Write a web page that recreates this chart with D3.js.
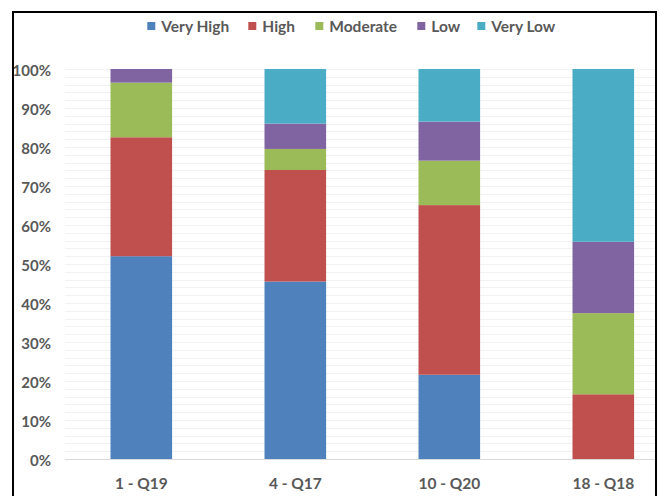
<!DOCTYPE html>
<html>
<head>
<meta charset="utf-8">
<script src="https://cdn.jsdelivr.net/npm/d3@7"></script>
<style>
  html, body { margin: 0; padding: 0; background: #fff; }
  svg { display: block; }
  text { font-family: Lato, "Noto Sans", sans-serif; font-weight: bold; fill: #595959; }
</style>
</head>
<body>
<svg id="chart" width="660" height="496"></svg>
<script>
// Questions on the x axis
const categories = ["1 - Q19", "4 - Q17", "10 - Q20", "18 - Q18"];

// Share of responses per rating level (percent), one value per question
const seriesNames = ["Very High", "High", "Moderate", "Low", "Very Low"];
const veryHigh = [52.0, 45.5, 21.6, 0.0];
const high     = [30.5, 28.6, 43.5, 16.6];
const moderate = [14.0, 5.4, 11.4, 20.8];
const low      = [3.5, 6.5, 10.0, 18.3];
const veryLow  = [0.0, 14.0, 13.5, 44.3];

const colors = ["#4F81BD", "#C0504D", "#9BBB59", "#8064A2", "#4BACC6"];
const yTicks = [0, 10, 20, 30, 40, 50, 60, 70, 80, 90, 100];

const rows = categories.map((c, i) => ({
  category: c,
  "Very High": veryHigh[i],
  "High": high[i],
  "Moderate": moderate[i],
  "Low": low[i],
  "Very Low": veryLow[i]
}));

const svg = d3.select("#chart");

const x = d3.scaleBand()
  .domain(categories)
  .range([64.3, 680.3])
  .paddingInner(0.6)
  .paddingOuter(0.3);

const y = d3.scaleLinear().domain([0, 100]).range([459, 69]);

const gridRight = 655;

// Light gridlines every 2%
const minor = d3.range(2, 101, 2);
svg.append("g")
  .selectAll("line")
  .data(minor)
  .join("line")
  .attr("x1", 65).attr("x2", gridRight)
  .attr("y1", d => Math.round(y(d)) + 0.5)
  .attr("y2", d => Math.round(y(d)) + 0.5)
  .attr("stroke", "#f2f2f2")
  .attr("stroke-width", 1);

// Stacked bars
const stack = d3.stack().keys(seriesNames);
const layers = stack(rows);

svg.append("g")
  .selectAll("g")
  .data(layers)
  .join("g")
  .attr("fill", (d, i) => colors[i])
  .selectAll("rect")
  .data(d => d)
  .join("rect")
  .attr("x", d => x(d.data.category))
  .attr("width", x.bandwidth())
  .attr("y", d => y(d[1]))
  .attr("height", d => y(d[0]) - y(d[1]));

// Baseline
svg.append("line")
  .attr("x1", 65).attr("x2", gridRight)
  .attr("y1", 459.5).attr("y2", 459.5)
  .attr("stroke", "#d9d9d9")
  .attr("stroke-width", 1);

// Y axis labels
const yAxis = d3.axisLeft(y)
  .tickValues(yTicks)
  .tickFormat(d => d + "%")
  .tickSize(0)
  .tickPadding(0);

const gy = svg.append("g")
  .attr("transform", "translate(51,0)")
  .call(yAxis);
gy.select(".domain").remove();
gy.selectAll("text")
  .attr("dy", "0.42em")
  .style("font-size", "15px")
  .style("font-family", "Lato, sans-serif")
  .attr("fill", "#595959");

// X axis labels
const xAxis = d3.axisBottom(x).tickSize(0).tickPadding(0);
const gx = svg.append("g")
  .attr("transform", "translate(0,478)")
  .call(xAxis);
gx.select(".domain").remove();
gx.selectAll("text")
  .attr("dy", "0.71em")
  .style("font-size", "15.5px")
  .style("font-family", "Lato, sans-serif")
  .attr("fill", "#595959");

// Legend
const legendX = [147.3, 248.3, 315.3, 417.3, 477.3];
const legend = svg.append("g")
  .selectAll("g")
  .data(seriesNames)
  .join("g")
  .attr("transform", (d, i) => `translate(${legendX[i]},0)`);
legend.append("rect")
  .attr("x", 0).attr("y", 22)
  .attr("width", 8).attr("height", 8)
  .attr("fill", (d, i) => colors[i]);
legend.append("text")
  .attr("x", 14).attr("y", 31.5)
  .style("font-size", "15.5px")
  .text(d => d);

// Outer frame
svg.append("path")
  .attr("d", "M13,496 V12 H656 V496")
  .attr("fill", "none")
  .attr("stroke", "#000")
  .attr("stroke-width", 2);
</script>
</body>
</html>
